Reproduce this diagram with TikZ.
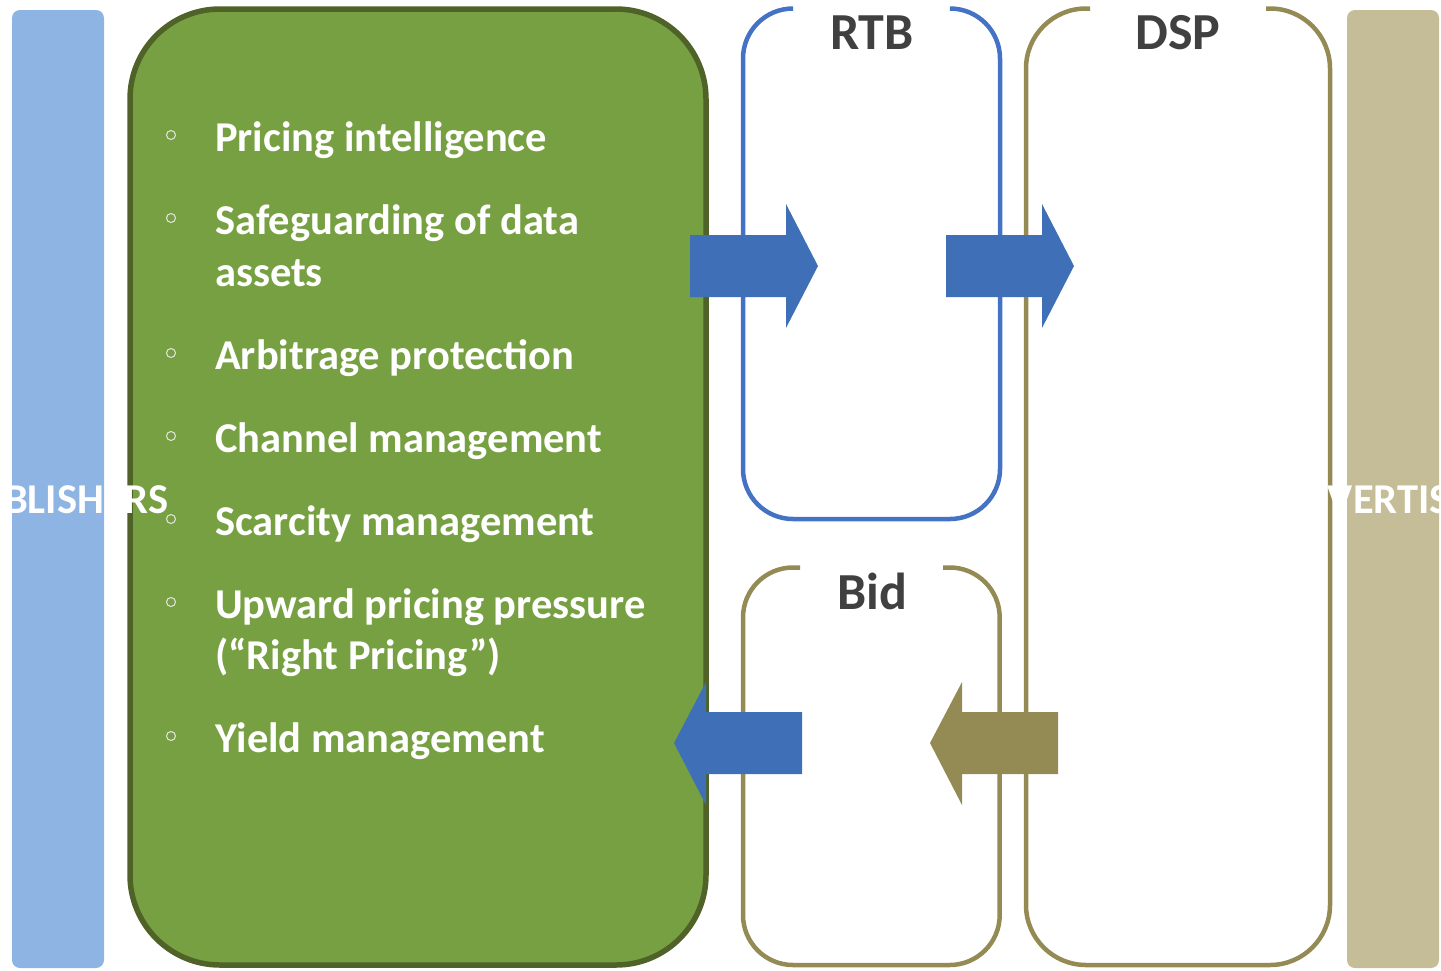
\documentclass[tikz,border=0pt]{standalone}
\usepackage{fontspec}
\setmainfont{Carlito}
\definecolor{barblue}{HTML}{8EB4E3}
\definecolor{bartan}{HTML}{C4BD97}
\definecolor{boxgreen}{HTML}{77A043}
\definecolor{boxgreenline}{HTML}{4F6228}
\definecolor{rtbblue}{HTML}{4472C4}
\definecolor{arrowblue}{HTML}{3F70B7}
\definecolor{olive}{HTML}{948A54}
\definecolor{titlegrey}{HTML}{404040}
\begin{document}
\begin{tikzpicture}[x=1pt,y=-1pt,
  itemtext/.style={anchor=base west,text=white,inner sep=0pt,
    font=\fontsize{42.5}{50}\selectfont\bfseries},
  bul/.style={circle,draw=white!80!gray,line width=1pt,minimum size=9pt,inner sep=0pt},
  boxtitle/.style={anchor=base,text=titlegrey,inner sep=0pt,
    font=\fontsize{52}{56}\selectfont\bfseries},
  sidetext/.style={anchor=base,text=white,inner sep=0pt,
    font=\fontsize{42.5}{50}\selectfont\bfseries}]
\useasboundingbox (0,0) rectangle (1441,970);
% side bars
\fill[barblue,rounded corners=8pt] (12,10) rectangle (104,968);
\fill[bartan,rounded corners=8pt] (1347,10) rectangle (1439,968);
% green box
\draw[fill=boxgreen,draw=boxgreenline,line width=5.5pt,rounded corners=90pt] (130,9) rectangle (706,965);
% RTB panel
\draw[draw=rtbblue,line width=4.5pt,rounded corners=50pt] (792,8.5) -- (743,8.5) -- (743,519) -- (1000,519) -- (1000,8.5) -- (952,8.5);
\node[boxtitle] (rtb) at (872,49) {RTB};
% DSP panel
\draw[draw=olive,line width=4.5pt,rounded corners=60pt] (1090,8.5) -- (1026,8.5) -- (1026,965) -- (1330,965) -- (1330,8.5) -- (1266,8.5);
\node[boxtitle] (dsp) at (1178,49) {DSP};
% Bid panel
\draw[draw=olive,line width=4.5pt,rounded corners=50pt] (800,567.5) -- (743,567.5) -- (743,965) -- (999.7,965) -- (999.7,567.5) -- (943,567.5);
\node[boxtitle] (bid) at (872,609) {Bid};
% side labels
\node[sidetext] (pub) at (61,513) {PUBLISHERS};
\node[sidetext] (adv) at (1395,513) {ADVERTISERS};
% list
\foreach \y/\t [count=\i] in {151/{Pricing intelligence},234/{Safeguarding of data},369/{Arbitrage protection},452/{Channel management},535/{Scarcity management},618/{Upward pricing pressure},752/{Yield management}}{
  \node[bul] (b\i) at (171,\y-16) {};
  \node[itemtext] (t\i) at (215,\y) {\t};
}
\node[itemtext] (t2b) at (215,286) {assets};
\node[itemtext] (t6b) at (215,669) {(“Right Pricing”)};
% block arrows
\fill[arrowblue] (690,235) -- (786,235) -- (786,204) -- (818,266) -- (786,328) -- (786,297) -- (690,297) -- cycle;
\fill[arrowblue] (946,235) -- (1042,235) -- (1042,204) -- (1074,266) -- (1042,328) -- (1042,297) -- (946,297) -- cycle;
\fill[arrowblue] (802,712) -- (706,712) -- (706,682) -- (674,743) -- (706,805) -- (706,774) -- (802,774) -- cycle;
\fill[olive] (1058,712) -- (962,712) -- (962,682) -- (930,743) -- (962,805) -- (962,774) -- (1058,774) -- cycle;
\end{tikzpicture}
\end{document}
